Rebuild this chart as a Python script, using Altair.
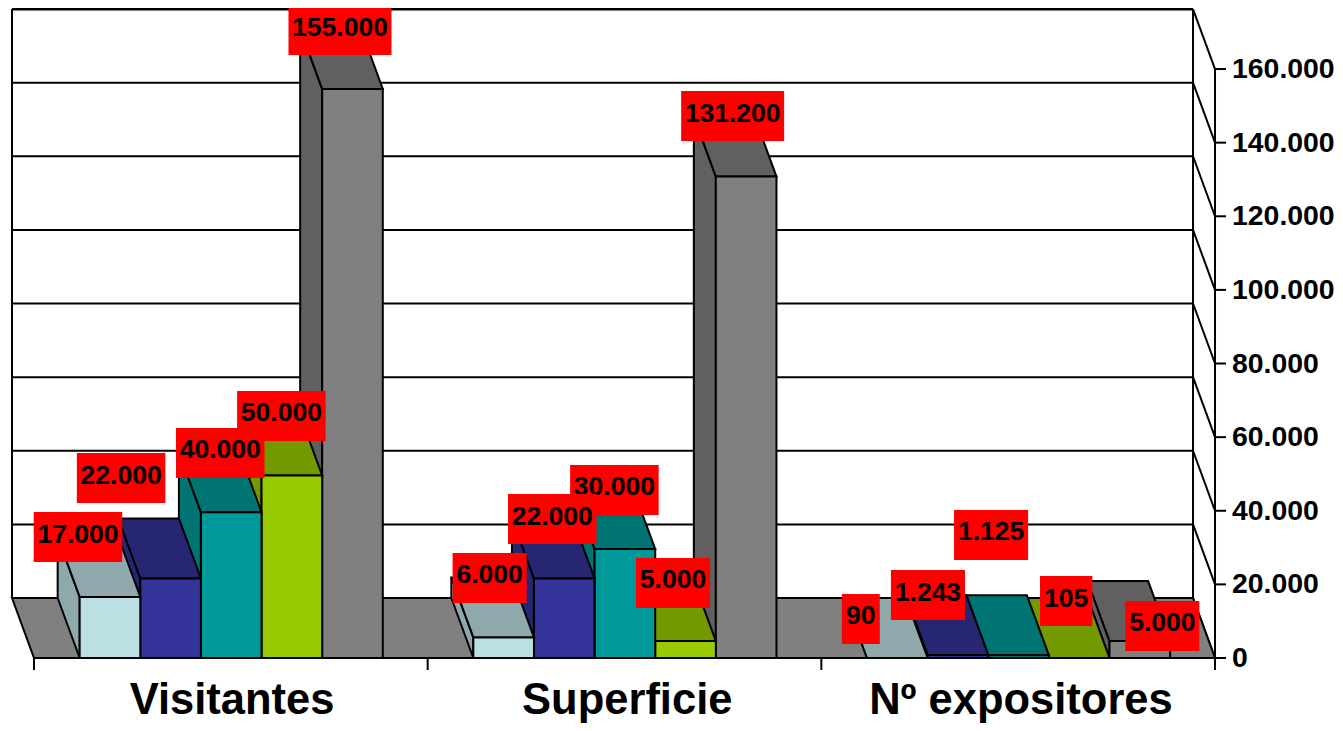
import altair as alt
import pandas as pd

categories = ["Visitantes", "Superficie", "Nº expositores"]
visitantes = [17000, 22000, 40000, 50000, 155000]
superficie = [6000, 22000, 30000, 5000, 131200]
expositores = [90, 1243, 1125, 105, 5000]
ticks = [0, 20000, 40000, 60000, 80000, 100000, 120000, 140000, 160000]

front = ["#BBE0E3", "#333399", "#009999", "#99CC00", "#808080"]
shade = ["#8FA8AB", "#262673", "#007373", "#739900", "#606060"]

# hand placement of the data labels, px away from the top centre of each bar
label_dx = [[-32, -49.5, -11, -10.5, -12.5], [-14, -12, -10.5, -12.5, -13.5], [-36.5, -30, -27.5, -13, 22.5]]
label_dy = [[-58.4, -99, -57.8, -58, -57.4], [-58, -58, -57.6, -56.6, -59], [-38.7, -58.4, -118.9, -56.6, -13.6]]

W, H = 1327, 715
PX_CAT = 393.67          # px per category slot
PX_VAL = 0.003681        # px per value unit
X0, Y0 = 34 - 8, 658 - 8 # origin inside the svg
DX = 22 / PX_CAT
DV = 60 / PX_VAL
GAP, BW = 0.116, 0.154
LINE = 2


def cx(px):
    return px / PX_CAT


def cv(px):
    return px / PX_VAL


DROP = cv(1.5)  # the bar tops sit a hair below the nominal value in the drawing

xs = alt.Scale(domain=[-X0 / PX_CAT, (W - X0) / PX_CAT], nice=False, zero=False)
ys = alt.Scale(domain=[-(H - Y0) / PX_VAL, Y0 / PX_VAL], nice=False, zero=False)
X = alt.X("x:Q", scale=xs, axis=None)
Y = alt.Y("y:Q", scale=ys, axis=None)
X2 = alt.X2("x2")
Y2 = alt.Y2("y2")


def rule(rows, width=LINE):
    df = pd.DataFrame(rows, columns=["x", "x2", "y", "y2"])
    return alt.Chart(df).mark_rule(color="black", strokeWidth=width).encode(x=X, x2=X2, y=Y, y2=Y2)


def top_face(x0, x1, base, dx, dv, fill):
    df = pd.DataFrame({"y": [base, base + dv], "x": [x0, x0 - dx], "x2": [x1, x1 - dx]})
    return alt.Chart(df).mark_area(orient="horizontal", fill=fill, stroke="black", strokeWidth=LINE, opacity=1).encode(
        x=X, x2=X2, y=Y
    )


def side_face(x0, top, dx, dv, fill):
    df = pd.DataFrame({"x": [x0 - dx, x0], "y": [dv, 0], "y2": [top + dv, top]})
    return alt.Chart(df).mark_area(orient="vertical", fill=fill, stroke="black", strokeWidth=LINE, opacity=1).encode(
        x=X, y=Y, y2=Y2
    )


def front_face(x0, x1, top, fill):
    df = pd.DataFrame({"x": [x0], "x2": [x1], "y": [0], "y2": [top]})
    return alt.Chart(df).mark_rect(fill=fill, stroke="black", strokeWidth=LINE).encode(x=X, x2=X2, y=Y, y2=Y2)


def fmt(v):
    return f"{v:,}".replace(",", ".")


layers = []

# back wall grid, side wall diagonals and the value axis
for t in ticks:
    w = 3 if t == ticks[-1] else LINE
    layers.append(rule([[-DX, 3 - DX, t + DV, t + DV]], w))
    layers.append(rule([[3 - DX, 3, t + DV, t]]))
    layers.append(rule([[3, 3 + cx(11), t, t]]))
layers.append(rule([[-DX, -DX, DV, ticks[-1] + DV]]))
layers.append(rule([[3 - DX, 3 - DX, DV, ticks[-1] + DV]]))
layers.append(rule([[3, 3, -cv(12), ticks[-1]]]))
for c in range(4):
    layers.append(rule([[c, c, 0, -cv(12)]]))

# floor
layers.append(top_face(0, 3, 0, DX, DV, "#808080"))

# bars, painted from right to left so nearer blocks cover farther ones
series = [visitantes, superficie, expositores]
for c in range(2, -1, -1):
    for j in range(4, -1, -1):
        v = max(series[c][j] - DROP, 0)
        x0 = c + GAP + j * BW
        x1 = x0 + BW
        layers.append(side_face(x0, v, DX, DV, shade[j]))
        layers.append(top_face(x0, x1, v, DX, DV, shade[j]))
        layers.append(front_face(x0, x1, v, front[j]))

# data labels
for c in range(3):
    for j in range(4, -1, -1):
        v = series[c][j]
        s = fmt(v)
        digits = sum(ch.isdigit() for ch in s)
        wpx = digits * 14.46 + (len(s) - digits) * 7.23 + 9
        xc = c + GAP + (j + 0.5) * BW + cx(label_dx[c][j])
        yc = v - cv(label_dy[c][j])
        box = pd.DataFrame(
            {"x": [xc - cx(wpx / 2)], "x2": [xc + cx(wpx / 2)], "y": [yc - cv(25)], "y2": [yc + cv(25)]}
        )
        layers.append(alt.Chart(box).mark_rect(fill="#FF0000").encode(x=X, x2=X2, y=Y, y2=Y2))
        lab = pd.DataFrame({"x": [xc], "y": [yc + cv(2.5)], "t": [s]})
        layers.append(
            alt.Chart(lab)
            .mark_text(font="Liberation Sans", fontWeight="bold", fontSize=26.5, color="black", baseline="middle", align="center")
            .encode(x=X, y=Y, text="t:N")
        )

# value axis labels
tick_df = pd.DataFrame({"x": [3 + cx(17)] * len(ticks), "y": ticks, "t": [fmt(t) for t in ticks]})
layers.append(
    alt.Chart(tick_df)
    .mark_text(font="Liberation Sans", fontWeight="bold", fontSize=28.4, color="black", baseline="middle", align="left")
    .encode(x=X, y=Y, text="t:N")
)

# category labels
cat_df = pd.DataFrame({"x": [0.503, 1.507, 2.507], "y": [-cv(43)] * 3, "t": categories})
layers.append(
    alt.Chart(cat_df)
    .mark_text(font="Liberation Sans", fontWeight="bold", fontSize=43.5, color="black", baseline="middle", align="center")
    .encode(x=X, y=Y, text="t:N")
)

chart = (
    alt.layer(*layers)
    .properties(width=W, height=H, padding=0, autosize=alt.AutoSizeParams(type="none"))
    .configure_view(stroke=None)
)
chart.save("out.html", embed_options={"renderer": "svg", "actions": False})
